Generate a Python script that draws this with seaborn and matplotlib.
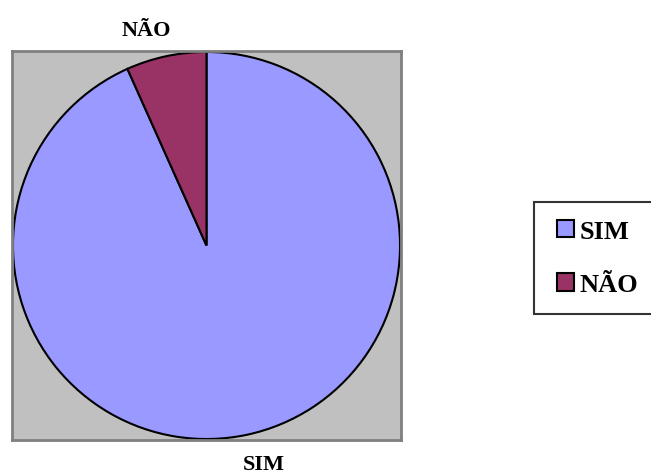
import matplotlib
matplotlib.use("Agg")
import matplotlib.pyplot as plt
import seaborn as sns
from matplotlib.patches import Patch, Rectangle
from matplotlib.legend_handler import HandlerPatch

categories = ["SIM", "NÃO"]
values = [93.3, 6.7]
colors = ["#9999FF", "#993366"]

sns.set_style("white")
plt.rcParams['font.family'] = ['Liberation Serif', 'DejaVu Serif']
plt.rcParams['text.color'] = 'black'

fig = plt.figure(figsize=(6.51, 4.77), dpi=100)
ax = fig.add_axes([12/651, 1 - 441/477, 389/651, 389/477])
ax.set_facecolor("#C0C0C0")
for s in ax.spines.values():
    s.set_visible(True)
    s.set_color("#808080")
    s.set_linewidth(2)

wedges, _ = ax.pie(values, colors=colors, startangle=90, counterclock=False,
                   radius=1.0, center=(0, 0), frame=True,
                   wedgeprops=dict(edgecolor="black", linewidth=1.5))
ax.set_xlim(-1.005, 1.005)
ax.set_ylim(-1.005, 1.005)
ax.set_xticks([])
ax.set_yticks([])
ax.set_aspect("auto")

ax.text(0.294, -1.129, categories[0], ha="center", va="center", fontsize=16,
        fontweight="bold", color="black", clip_on=False)
ax.text(-0.309, 1.113, categories[1], ha="center", va="center", fontsize=16,
        fontweight="bold", color="black", clip_on=False)


def square_right(legend, orig_handle, xdescent, ydescent, width, height, fontsize):
    return Rectangle((-xdescent + width - height, -ydescent), height, height)


handles = [Patch(facecolor=c, edgecolor="black", linewidth=1.5) for c in colors]
leg = fig.legend(handles, categories, loc="upper left",
                 bbox_to_anchor=(534/651, 1 - 203/477),
                 prop=dict(size=19, weight="bold"),
                 frameon=True, fancybox=False, edgecolor="black",
                 handlelength=0.84, handleheight=0.645, handletextpad=0.2,
                 labelspacing=1.15, borderpad=0.68, borderaxespad=0,
                 handler_map={Patch: HandlerPatch(patch_func=square_right)})
for t in leg.get_texts():
    t.set_color("black")
leg.get_frame().set_linewidth(1.5)

fig.savefig("out.png", dpi=100, facecolor="white")
